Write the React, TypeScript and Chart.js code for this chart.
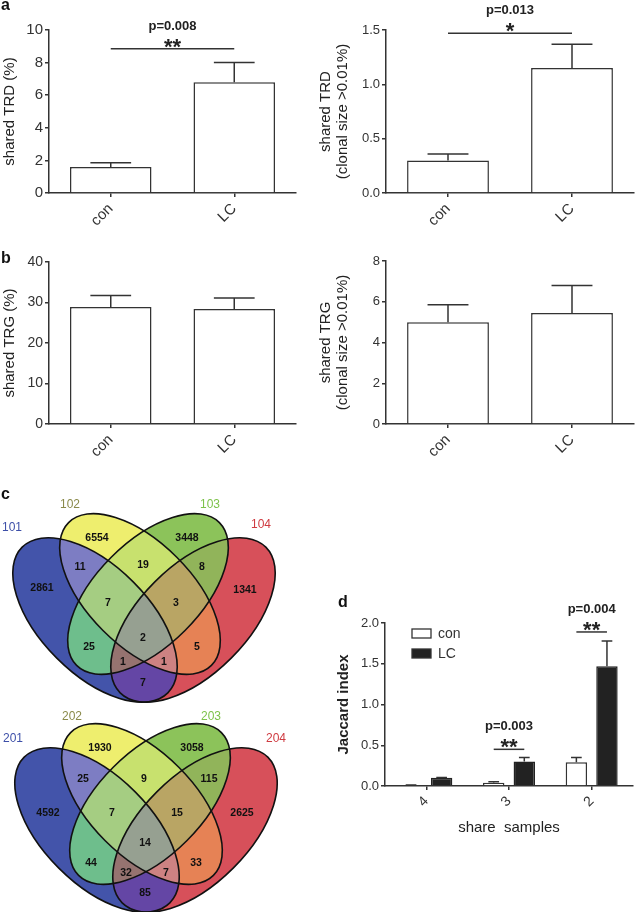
import React, { useEffect, useRef } from 'react';
import { Chart, registerables } from 'chart.js';
Chart.register(...registerables);

const FONT = "'Liberation Sans', Arial, Helvetica, sans-serif";
const INK = '#333333';

// ---------- panel a / b data ----------
const groups = ['con', 'LC'];
const trdShared = [1.6, 6.8];
const trdSharedSem = [0.25, 1.2];
const trdClonal = [0.3, 1.15];
const trdClonalSem = [0.06, 0.22];
const trgShared = [28.9, 28.4];
const trgSharedSem = [2.8, 2.7];
const trgClonal = [5.0, 5.45];
const trgClonalSem = [0.85, 1.35];

// ---------- panel d data ----------
const shareSamples = ['4', '3', '2'];
const jaccardCon = [0.01, 0.04, 0.29];
const jaccardConSem = [0.003, 0.012, 0.06];
const jaccardLC = [0.1, 0.3, 1.47];
const jaccardLCSem = [0.005, 0.05, 0.31];

// ---------- panel c data ----------
const vennRegions = ['A', 'B', 'C', 'D', 'AB', 'BC', 'CD', 'ABC', 'BCD', 'ABCD', 'AC', 'BD', 'ACD', 'ABD', 'AD'];
const vennSets1 = ['101', '102', '103', '104'];
const vennCounts1 = [2861, 6554, 3448, 1341, 11, 19, 8, 7, 3, 2, 25, 5, 1, 1, 7];
const vennSets2 = ['201', '202', '203', '204'];
const vennCounts2 = [4592, 1930, 3058, 2625, 25, 9, 115, 7, 15, 14, 44, 33, 32, 7, 85];

// ---------- styles / layout ----------
const REGION_COLORS: Record<string, string> = {
  A: '#4354aa', B: '#eeee6e', C: '#8cc35a', D: '#d7505a',
  AB: '#7d7dc3', BC: '#c8e16e', CD: '#91b45a', ABC: '#a5cd82',
  BCD: '#b9a564', ABCD: '#96a091', AC: '#6ebe8c', BD: '#e68255',
  ACD: '#967370', ABD: '#cd8282', AD: '#6446a5',
};
const SET_COLORS = ['#3d4fa8', '#8a8a4a', '#7dc24a', '#cf3a40'];
// cx, cy, rx, ry, rotation(deg) in venn-local units
const ELLIPSES = [
  [95, 140, 103, 54, 45],
  [140, 114, 101, 52, 45],
  [148, 114, 101, 52, -45],
  [193, 140, 103, 54, -45],
];
const labelPos1 = [[42, 108], [97, 58], [187, 58], [245, 110], [80, 87], [143, 85], [202, 87], [108, 123], [176, 123], [143, 158], [89, 167], [197, 167], [123, 182], [164, 182], [143, 203]];
const setPos1 = [[12, 48], [70, 25], [210, 25], [261, 45]];
const labelPos2 = [[46, 123], [98, 58], [190, 58], [240, 123], [81, 89], [142, 89], [207, 89], [110, 123], [175, 123], [143, 153], [89, 173], [194, 173], [124, 183], [164, 183], [143, 203]];
const setPos2 = [[11, 49], [70, 27], [209, 27], [274, 49]];

type Sig = { a: [number, number]; b: [number, number]; y: number; p: string; stars: string };

function extrasPlugin(sems: number[][], sig: Sig[], legend: boolean) {
  return {
    id: 'extras',
    afterDatasetsDraw(chart: any) {
      const ctx = chart.ctx;
      const ys = chart.scales.y;
      chart.data.datasets.forEach((ds: any, di: number) => {
        const meta = chart.getDatasetMeta(di);
        meta.data.forEach((bar: any, i: number) => {
          const v = ds.data[i] as number;
          const e = sems[di][i];
          const yTop = ys.getPixelForValue(v + e);
          const yBase = ys.getPixelForValue(v);
          const half = bar.width / 4;
          ctx.save();
          ctx.strokeStyle = INK;
          ctx.lineWidth = 1.5;
          ctx.beginPath();
          ctx.moveTo(bar.x, yBase);
          ctx.lineTo(bar.x, yTop);
          ctx.moveTo(bar.x - half, yTop);
          ctx.lineTo(bar.x + half, yTop);
          ctx.stroke();
          ctx.restore();
        });
      });
    },
    afterDraw(chart: any) {
      const ctx = chart.ctx;
      const ys = chart.scales.y;
      for (const s of sig) {
        const pa = chart.getDatasetMeta(s.a[0]).data[s.a[1]];
        const pb = chart.getDatasetMeta(s.b[0]).data[s.b[1]];
        const yy = ys.getPixelForValue(s.y);
        ctx.save();
        ctx.strokeStyle = INK;
        ctx.lineWidth = 1.5;
        ctx.beginPath();
        ctx.moveTo(pa.x, yy);
        ctx.lineTo(pb.x, yy);
        ctx.stroke();
        const mx = (pa.x + pb.x) / 2;
        ctx.fillStyle = '#222';
        ctx.textAlign = 'center';
        ctx.textBaseline = 'alphabetic';
        ctx.font = `bold 13px ${FONT}`;
        ctx.fillText(s.p, mx, yy - 19);
        ctx.font = `bold 22px ${FONT}`;
        ctx.fillText(s.stars, mx, yy + 5);
        ctx.restore();
      }
      if (legend) {
        const ca = chart.chartArea;
        chart.data.datasets.forEach((ds: any, i: number) => {
          const x0 = ca.left + 27;
          const y0 = ca.top + 6 + i * 20;
          ctx.save();
          ctx.fillStyle = ds.backgroundColor;
          ctx.fillRect(x0, y0, 19, 9);
          ctx.strokeStyle = INK;
          ctx.lineWidth = 1.3;
          ctx.strokeRect(x0, y0, 19, 9);
          ctx.fillStyle = INK;
          ctx.font = `14px ${FONT}`;
          ctx.textAlign = 'left';
          ctx.textBaseline = 'middle';
          ctx.fillText(ds.label, x0 + 26, y0 + 5);
          ctx.restore();
        });
      }
    },
  };
}

function barConfig(o: {
  labels: string[]; datasets: any[]; sems: number[][]; yMax: number; yStep: number; decimals: number;
  yTitle: string | string[]; yTitleBold?: boolean; yTitlePad: number; tickSize: number; xTickSize: number;
  padding: any; yWidth: number; xHeight: number; sig: Sig[]; xTitle?: string; legend?: boolean;
}): any {
  const gridCommon = { display: true, drawOnChartArea: false, drawTicks: true, tickLength: 4, color: INK, lineWidth: 1.5, offset: false };
  return {
    type: 'bar',
    data: { labels: o.labels, datasets: o.datasets },
    options: {
      animation: false,
      responsive: false,
      devicePixelRatio: 1,
      layout: { padding: o.padding },
      plugins: { legend: { display: false }, tooltip: { enabled: false } },
      scales: {
        x: {
          grid: gridCommon,
          border: { display: true, color: INK, width: 1.5 },
          ticks: { color: INK, font: { family: FONT, size: o.xTickSize }, minRotation: 45, maxRotation: 45, autoSkip: false, padding: 3 },
          title: o.xTitle
            ? { display: true, text: o.xTitle, color: '#222', font: { family: FONT, size: 15 }, padding: { top: 0, bottom: 0 } }
            : { display: false },
          afterFit: (s: any) => { s.height = o.xHeight; },
        },
        y: {
          min: 0,
          max: o.yMax,
          grid: gridCommon,
          border: { display: true, color: INK, width: 1.5 },
          ticks: {
            stepSize: o.yStep,
            color: INK,
            padding: 2,
            font: { family: FONT, size: o.tickSize },
            callback: (v: number) => v.toFixed(o.decimals),
          },
          title: {
            display: true,
            text: o.yTitle,
            color: '#222',
            font: { family: FONT, size: 15, weight: o.yTitleBold ? 'bold' : 'normal', lineHeight: 1.15 },
            padding: { top: o.yTitlePad, bottom: 0 },
          },
          afterFit: (s: any) => { s.width = o.yWidth; },
        },
      },
    },
    plugins: [extrasPlugin(o.sems, o.sig, !!o.legend)],
  };
}

const whiteBar = (data: number[], label = '') => ({
  label, data, backgroundColor: '#ffffff', borderColor: INK, borderWidth: 1.5, barPercentage: 0.66, categoryPercentage: 1,
});

const makeA1 = () => barConfig({
  labels: groups, datasets: [whiteBar(trdShared)], sems: [trdSharedSem], yMax: 10, yStep: 2, decimals: 0,
  yTitle: 'shared TRD (%)', yTitlePad: 1, tickSize: 15, xTickSize: 15,
  padding: { top: 30, right: 20, left: 0, bottom: 0 }, yWidth: 49, xHeight: 47,
  sig: [{ a: [0, 0], b: [0, 1], y: 8.85, p: 'p=0.008', stars: '**' }],
});
const makeA2 = () => barConfig({
  labels: groups, datasets: [whiteBar(trdClonal)], sems: [trdClonalSem], yMax: 1.5, yStep: 0.5, decimals: 1,
  yTitle: ['shared TRD', '(clonal size >0.01%)'], yTitlePad: 1, tickSize: 13, xTickSize: 15,
  padding: { top: 30, right: 2, left: 0, bottom: 0 }, yWidth: 70, xHeight: 47,
  sig: [{ a: [0, 0], b: [0, 1], y: 1.47, p: 'p=0.013', stars: '*' }],
});
const makeB1 = () => barConfig({
  labels: groups, datasets: [whiteBar(trgShared)], sems: [trgSharedSem], yMax: 40, yStep: 10, decimals: 0,
  yTitle: 'shared TRG (%)', yTitlePad: 1, tickSize: 14, xTickSize: 15,
  padding: { top: 22, right: 20, left: 0, bottom: 0 }, yWidth: 49, xHeight: 56, sig: [],
});
const makeB2 = () => barConfig({
  labels: groups, datasets: [whiteBar(trgClonal)], sems: [trgClonalSem], yMax: 8, yStep: 2, decimals: 0,
  yTitle: ['shared TRG', '(clonal size >0.01%)'], yTitlePad: 1, tickSize: 13, xTickSize: 15,
  padding: { top: 21, right: 2, left: 0, bottom: 0 }, yWidth: 70, xHeight: 56, sig: [],
});
const makeD = () => barConfig({
  labels: shareSamples,
  datasets: [
    { label: 'con', data: jaccardCon, backgroundColor: '#ffffff', borderColor: INK, borderWidth: 1.5, barPercentage: 0.7, categoryPercentage: 0.74 },
    { label: 'LC', data: jaccardLC, backgroundColor: '#222222', borderColor: '#222222', borderWidth: 1.5, barPercentage: 0.7, categoryPercentage: 0.74 },
  ],
  sems: [jaccardConSem, jaccardLCSem], yMax: 2, yStep: 0.5, decimals: 1,
  yTitle: 'Jaccard index', yTitleBold: true, yTitlePad: 19, tickSize: 13, xTickSize: 14,
  padding: { top: 43, right: 3, left: 0, bottom: 3 }, yWidth: 69, xHeight: 51,
  sig: [
    { a: [0, 1], b: [1, 1], y: 0.45, p: 'p=0.003', stars: '**' },
    { a: [0, 2], b: [1, 2], y: 1.89, p: 'p=0.004', stars: '**' },
  ],
  xTitle: 'share  samples', legend: true,
});

function vennConfig(counts: number[], pos: number[][], sets: string[], setPos: number[][], W: number, H: number): any {
  const plugin = {
    id: 'venn',
    beforeDatasetsDraw(chart: any) {
      const { ctx } = chart;
      const xs = chart.scales.x;
      const ys = chart.scales.y;
      const sx = (xs.getPixelForValue(100) - xs.getPixelForValue(0)) / 100;
      const sy = (ys.getPixelForValue(100) - ys.getPixelForValue(0)) / 100;
      const path = (e: number[]) => {
        ctx.beginPath();
        ctx.ellipse(xs.getPixelForValue(e[0]), ys.getPixelForValue(e[1]), e[2] * sx, e[3] * sy, (e[4] * Math.PI) / 180, 0, Math.PI * 2);
      };
      vennRegions.forEach((key) => {
        ctx.save();
        ELLIPSES.forEach((e, i) => {
          path(e);
          if (key.includes('ABCD'[i])) {
            ctx.clip();
          } else {
            ctx.rect(0, 0, chart.width, chart.height);
            ctx.clip('evenodd');
          }
        });
        ctx.fillStyle = REGION_COLORS[key];
        ctx.fillRect(0, 0, chart.width, chart.height);
        ctx.restore();
      });
      ctx.save();
      ctx.strokeStyle = '#111';
      ctx.lineWidth = 1.6;
      ELLIPSES.forEach((e) => { path(e); ctx.stroke(); });
      ctx.restore();
    },
    afterDatasetsDraw(chart: any) {
      const { ctx } = chart;
      const xs = chart.scales.x;
      const ys = chart.scales.y;
      const meta = chart.getDatasetMeta(0);
      ctx.save();
      ctx.textAlign = 'center';
      ctx.textBaseline = 'middle';
      ctx.fillStyle = '#111';
      ctx.font = `bold 10.5px ${FONT}`;
      meta.data.forEach((pt: any, i: number) => {
        ctx.fillText(String(counts[i]), pt.x, pt.y);
      });
      ctx.font = `12px ${FONT}`;
      sets.forEach((s, i) => {
        ctx.fillStyle = SET_COLORS[i];
        ctx.fillText(s, xs.getPixelForValue(setPos[i][0]), ys.getPixelForValue(setPos[i][1]));
      });
      ctx.restore();
    },
  };
  return {
    type: 'scatter',
    data: { datasets: [{ data: pos.map((p) => ({ x: p[0], y: p[1] })), pointRadius: 0, showLine: false }] },
    options: {
      animation: false,
      responsive: false,
      devicePixelRatio: 1,
      layout: { padding: 0 },
      plugins: { legend: { display: false }, tooltip: { enabled: false } },
      scales: {
        x: { type: 'linear', min: 0, max: W, display: false },
        y: { type: 'linear', min: 0, max: H, reverse: true, display: false },
      },
    },
    plugins: [plugin],
  };
}

const makeV1 = () => vennConfig(vennCounts1, labelPos1, vennSets1, setPos1, 292, 228);
const makeV2 = () => vennConfig(vennCounts2, labelPos2, vennSets2, setPos2, 292, 222);

function ChartCanvas(props: { left: number; top: number; width: number; height: number; make: () => any }) {
  const ref = useRef<HTMLCanvasElement>(null);
  useEffect(() => {
    const c = new Chart(ref.current as HTMLCanvasElement, props.make());
    return () => c.destroy();
  }, []);
  return (
    <canvas
      ref={ref}
      width={props.width}
      height={props.height}
      style={{ position: 'absolute', left: props.left, top: props.top, width: props.width, height: props.height }}
    />
  );
}

const letter = (t: string, left: number, baseline: number) => (
  <span
    style={{ position: 'absolute', left, top: baseline - 13.5, font: `bold 16px ${FONT}`, lineHeight: '16px', color: '#111' }}
  >
    {t}
  </span>
);

export default function App() {
  return (
    <div style={{ position: 'absolute', left: 0, top: 0, width: 636, height: 912, background: '#fff', overflow: 'hidden' }}>
      <ChartCanvas left={0} top={0} width={316} height={240} make={makeA1} />
      <ChartCanvas left={316} top={0} width={320} height={240} make={makeA2} />
      <ChartCanvas left={0} top={240} width={316} height={240} make={makeB1} />
      <ChartCanvas left={316} top={240} width={320} height={240} make={makeB2} />
      <ChartCanvas left={0} top={480} width={292} height={228} make={makeV1} />
      <ChartCanvas left={2} top={690} width={292} height={222} make={makeV2} />
      <ChartCanvas left={316} top={580} width={320} height={260} make={makeD} />
      {letter('a', 1, 10.5)}
      {letter('b', 1, 263)}
      {letter('c', 1, 499)}
      {letter('d', 338, 607)}
    </div>
  );
}
